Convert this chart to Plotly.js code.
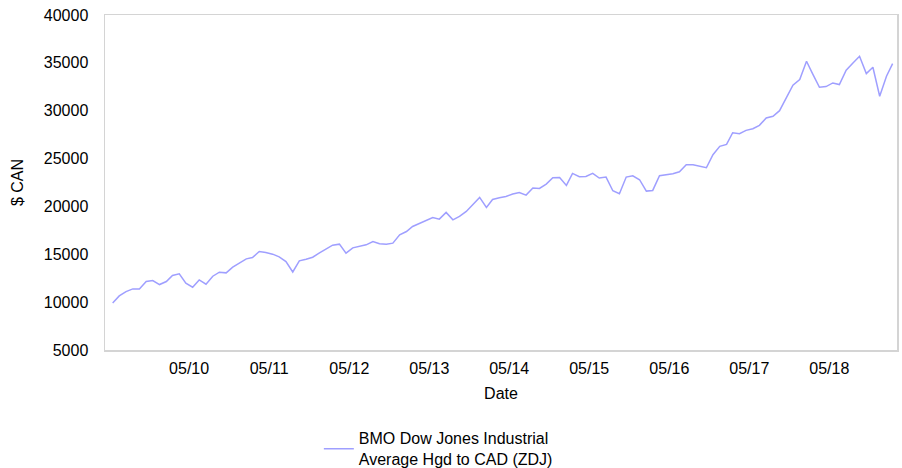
<!DOCTYPE html>
<html>
<head>
<meta charset="utf-8">
<script src="https://cdn.plot.ly/plotly-3.0.1.min.js"></script>
<style>html,body{margin:0;padding:0;background:#fff;}#chart{width:902px;height:468px;}</style>
</head>
<body>
<div id="chart"></div>
<script>
// Monthly series, first month and values
var startYear = 2009, startMonth = 5; // May 2009
var seriesName = 'BMO Dow Jones Industrial<br>Average Hgd to CAD (ZDJ)';
var values = [
  9900, 10651, 11105, 11384, 11384, 12151, 12255, 11837, 12151, 12778,
  12953, 11977, 11558, 12325, 11872, 12709, 13128, 13058, 13651, 14069,
  14523, 14662, 15290, 15185, 15011, 14732, 14243, 13150, 14313, 14488,
  14697, 15150, 15569, 15953, 16057, 15116, 15674, 15813, 15987, 16336,
  16092, 16057, 16162, 17034, 17382, 17905, 18240, 18499, 18848, 18673,
  19371, 18603, 18952, 19475, 20243, 20940, 19894, 20731, 20905, 21045,
  21289, 21463, 21184, 21917, 21882, 22335, 22998, 23033, 22196, 23450,
  23100, 23137, 23451, 22962, 23067, 21637, 21323, 23067, 23207, 22788,
  21602, 21672, 23207, 23311, 23416, 23625, 24358, 24358, 24218, 24044,
  25404, 26276, 26480, 27700, 27601, 27950, 28124, 28473, 29240, 29414,
  30007, 31333, 32658, 33251, 35169, 33844, 32449, 32519, 32902, 32728,
  34228, 34995, 35692, 33879, 34541, 31507, 33600, 34925
];
var tickLabels = ['05/10','05/11','05/12','05/13','05/14','05/15','05/16','05/17','05/18'];
var tickDates = ['2010-05-15','2011-05-15','2012-05-15','2013-05-15','2014-05-15','2015-05-15','2016-05-15','2017-05-15','2018-05-15'];

function monthEnd(y, m) {
  var d = new Date(Date.UTC(y, m, 0));
  return d.toISOString().slice(0, 10);
}
var dates = [];
for (var i = 0; i < values.length; i++) {
  var mm = startMonth - 1 + i;
  var y = startYear + Math.floor(mm / 12);
  var m = (mm % 12) + 1;
  dates.push(monthEnd(y, m));
}

var font = {family: 'Liberation Sans, Arial, sans-serif', size: 16, color: '#000'};

Plotly.newPlot('chart', [{
  x: dates,
  y: values,
  type: 'scatter',
  mode: 'lines',
  name: seriesName,
  line: {color: '#9f9fff', width: 1.5},
  showlegend: true
}], {
  width: 902,
  height: 468,
  margin: {l: 105, r: 5, t: 15, b: 118, autoexpand: false},
  paper_bgcolor: '#fff',
  plot_bgcolor: '#fff',
  font: font,
  showlegend: true,
  xaxis: {
    type: 'date',
    range: ['2009-04-26', '2019-03-20'],
    tickmode: 'array',
    tickvals: tickDates,
    ticktext: tickLabels,
    showgrid: false,
    zeroline: false,
    showline: true,
    mirror: true,
    linecolor: '#d4d4d4',
    linewidth: 1.5,
    ticks: '',
    ticklabelstandoff: 3,
    tickfont: font,
    title: {text: 'Date', font: font, standoff: 12},
    automargin: false
  },
  yaxis: {
    range: [5000, 40000],
    tickmode: 'linear',
    tick0: 5000,
    dtick: 5000,
    tickformat: 'd',
    showgrid: false,
    zeroline: false,
    showline: true,
    mirror: true,
    linecolor: '#d4d4d4',
    linewidth: 1.5,
    ticks: '',
    ticklabelstandoff: 12,
    tickfont: font,
    title: {text: '$ CAN', font: font, standoff: 16},
    automargin: false
  },
  legend: {
    x: 0.27,
    xanchor: 'left',
    y: -0.213,
    yanchor: 'top',
    orientation: 'v',
    font: font,
    bgcolor: 'rgba(0,0,0,0)'
  }
}, {displayModeBar: false, staticPlot: true});
</script>
</body>
</html>
